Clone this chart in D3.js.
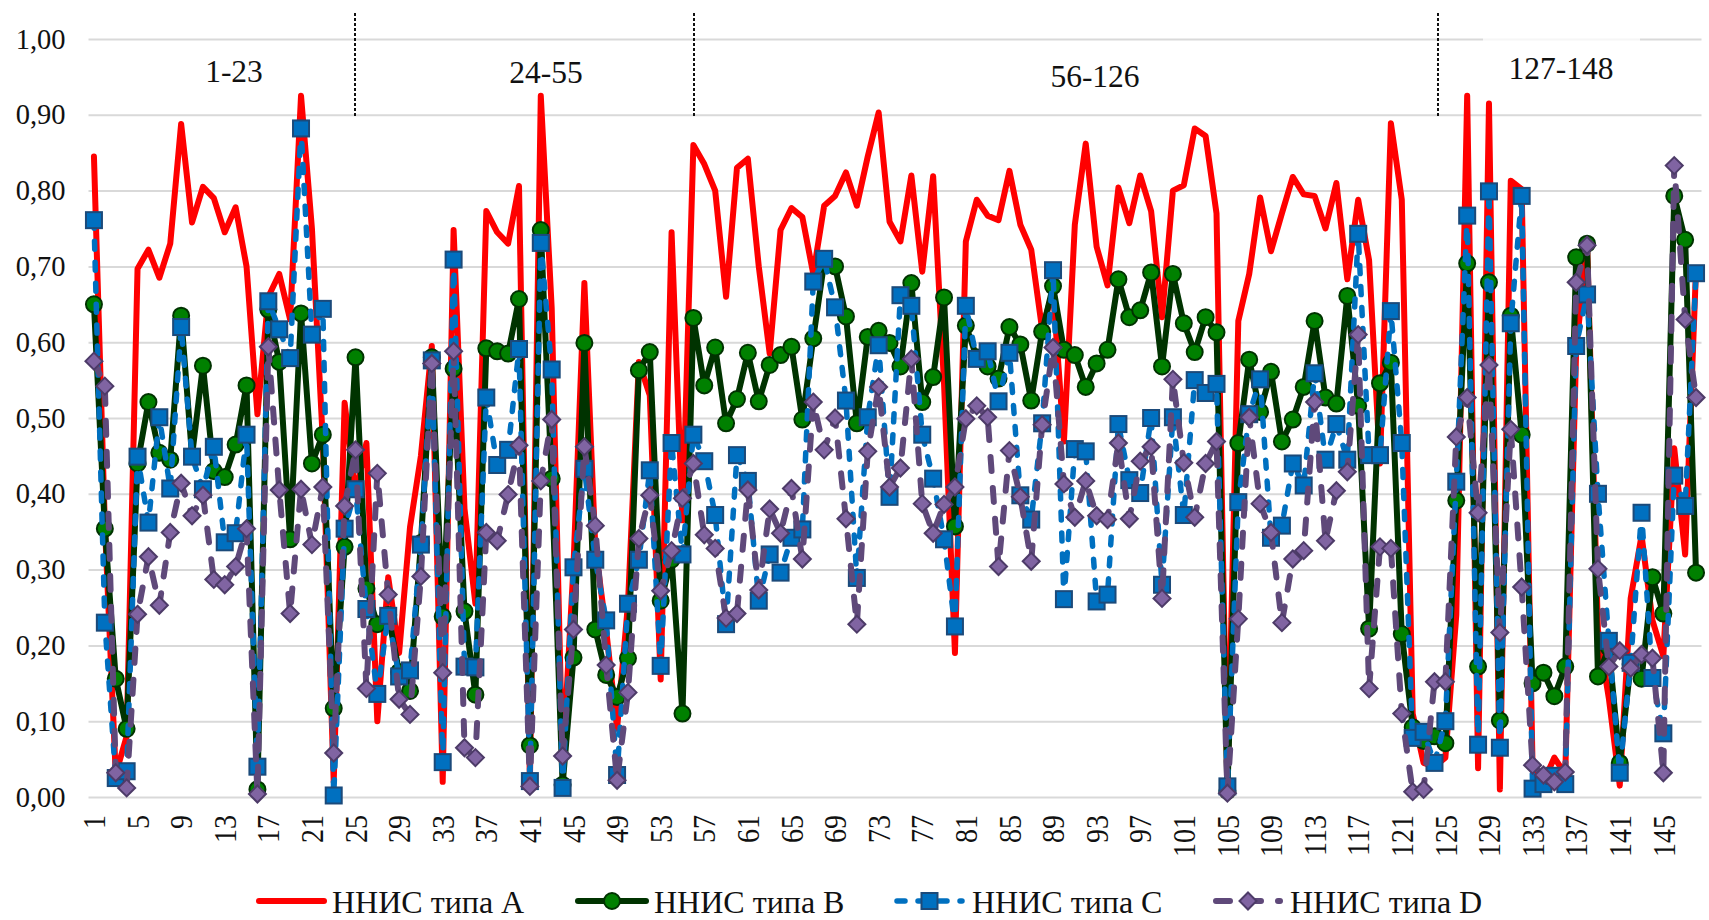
<!DOCTYPE html>
<html><head><meta charset="utf-8">
<script src="https://cdn.jsdelivr.net/npm/d3@7"></script>
<style>html,body{margin:0;padding:0;background:#fff;overflow:hidden}text{font-family:"Liberation Serif","Times New Roman",serif;fill:#111}</style>
</head><body><svg id="c" width="1709" height="920"></svg>
<script>
const categories = d3.range(1,149);
const yTicks = [0,0.1,0.2,0.3,0.4,0.5,0.6,0.7,0.8,0.9,1.0];
const xTickValues = d3.range(1,149,4);
const seriesNames = ["ННИС типа A","ННИС типа B","ННИС типа C","ННИС типа D"];
const typeA = [.845,.36,.03,.08,.697,.722,.685,.73,.888,.758,
.805,.79,.745,.778,.70,.505,.66,.69,.63,.925,
.75,.47,.02,.52,.40,.467,.10,.29,.19,.356,
.45,.595,.02,.748,.38,.255,.773,.745,.73,.806,
.02,.925,.645,.04,.305,.678,.33,.22,.09,.255,
.574,.53,.155,.745,.365,.86,.835,.80,.66,.83,
.842,.70,.585,.748,.777,.765,.69,.78,.793,.824,
.78,.845,.903,.759,.733,.82,.693,.819,.545,.19,
.733,.788,.767,.761,.826,.755,.722,.617,.668,.469,
.755,.862,.726,.675,.804,.757,.82,.773,.633,.80,
.807,.882,.872,.77,.01,.628,.69,.791,.72,.77,
.818,.795,.793,.75,.81,.683,.788,.708,.44,.889,
.788,.11,.045,.04,.052,.24,.925,.038,.915,.01,
.813,.802,.04,.02,.052,.03,.59,.73,.22,.13,
.015,.262,.345,.233,.186,.46,.32,.697];
const typeB = [.65,.354,.156,.09,.44,.521,.454,.445,.635,.45,
.569,.43,.422,.465,.543,.01,.643,.574,.34,.638,
.44,.478,.117,.33,.58,.275,.228,.24,.165,.14,
.335,.58,.238,.565,.245,.135,.592,.588,.585,.657,
.068,.748,.42,.016,.184,.599,.221,.161,.132,.183,
.563,.587,.259,.313,.11,.632,.543,.593,.493,.525,
.586,.522,.57,.583,.594,.498,.605,.705,.70,.634,
.493,.607,.615,.599,.568,.678,.521,.554,.659,.357,
.622,.58,.568,.552,.62,.597,.523,.614,.674,.59,
.583,.541,.572,.59,.683,.633,.642,.692,.568,.69,
.625,.587,.633,.613,.008,.467,.577,.508,.561,.469,
.498,.541,.628,.527,.519,.661,.516,.222,.546,.573,
.215,.092,.074,.08,.071,.391,.704,.172,.679,.101,
.635,.478,.15,.164,.133,.172,.712,.73,.159,.197,
.045,.175,.156,.29,.242,.793,.735,.296];
const typeC = [.761,.23,.025,.034,.449,.362,.501,.407,.62,.449,
.406,.462,.336,.348,.478,.04,.654,.617,.579,.882,
.61,.644,.002,.354,.406,.248,.136,.239,.159,.167,
.333,.576,.046,.709,.172,.171,.527,.438,.458,.591,
.021,.731,.564,.012,.303,.433,.313,.233,.029,.255,
.313,.431,.173,.467,.32,.478,.443,.372,.228,.451,
.417,.259,.32,.296,.342,.353,.68,.71,.646,.523,
.289,.501,.596,.396,.662,.648,.478,.42,.34,.225,
.648,.578,.588,.522,.586,.398,.366,.493,.695,.261,
.459,.456,.258,.267,.492,.418,.401,.5,.28,.501,
.372,.55,.533,.545,.014,.389,.505,.551,.342,.358,
.44,.411,.559,.445,.492,.445,.743,.451,.451,.641,
.467,.078,.086,.045,.1,.416,.767,.069,.799,.065,
.625,.793,.011,.017,.028,.017,.595,.663,.4,.206,
.032,.177,.375,.157,.084,.424,.384,.691];
const typeD = [.575,.542,.032,.012,.241,.317,.253,.349,.414,.371,
.398,.287,.28,.304,.354,.004,.594,.405,.242,.406,
.333,.409,.058,.384,.458,.143,.427,.267,.129,.109,
.291,.572,.164,.588,.065,.052,.349,.338,.399,.464,
.014,.417,.498,.054,.221,.462,.358,.174,.022,.138,
.341,.398,.272,.325,.394,.44,.346,.328,.236,.242,
.405,.273,.38,.348,.407,.314,.521,.458,.5,.367,
.228,.456,.541,.409,.434,.578,.387,.348,.386,.409,
.499,.516,.501,.304,.457,.396,.311,.491,.593,.413,
.369,.417,.371,.366,.467,.367,.443,.462,.262,.551,
.441,.369,.44,.469,.005,.235,.501,.387,.349,.23,
.314,.325,.521,.338,.404,.429,.61,.143,.33,.328,
.11,.007,.01,.152,.152,.475,.527,.375,.57,.217,
.485,.277,.042,.029,.02,.033,.679,.728,.301,.172,
.193,.17,.188,.183,.032,.833,.63,.527];
const periodLabels = ["1-23","24-55","56-126","127-148"];

const svg = d3.select("#c");
const m = {l:88.5,r:1701.5,t:39,b:797};
const x = d3.scaleBand().domain(categories).range([m.l,m.r]);
const cx = v => x(v)+x.bandwidth()/2;
const y = d3.scaleLinear().domain([0,1]).range([m.b,m.t]);

// gridlines
svg.append("g").attr("transform",`translate(${m.l},0)`)
  .call(d3.axisLeft(y).tickValues(yTicks).tickSize(-(m.r-m.l)).tickFormat(""))
  .call(g=>g.select(".domain").remove())
  .call(g=>g.selectAll("line").attr("stroke","#d9d9d9").attr("stroke-width",2));

// y labels
svg.append("g").attr("transform",`translate(${m.l},0)`)
  .call(d3.axisLeft(y).tickValues(yTicks).tickSize(0).tickPadding(23).tickFormat(d=>d3.format(".2f")(d).replace(".",",")))
  .call(g=>g.select(".domain").remove())
  .call(g=>g.selectAll("text").attr("font-size",28.5));

// x labels
svg.append("g").attr("transform",`translate(0,${m.b})`)
  .call(d3.axisBottom(x).tickValues(xTickValues).tickSize(0).tickPadding(0))
  .call(g=>g.select(".domain").remove())
  .call(g=>g.selectAll("text").attr("font-size",28).attr("text-anchor","end")
     .attr("dominant-baseline","central").attr("dy",0).attr("y",0)
     .attr("transform","translate(0,18) rotate(-90) scale(1,1.14)"));

const series = [
 {k:"A",v:typeA,stroke:"#ff0000",w:6,dash:null,cap:"round"},
 {k:"B",v:typeB,stroke:"#003300",w:6,dash:null,cap:"round",m:"circle",fill:"#008000",ms:"#003300"},
 {k:"C",v:typeC,stroke:"#0070c0",w:5.5,dash:"8 13",cap:"round",m:"square",fill:"#0070c0",ms:"#1b4a7a"},
 {k:"D",v:typeD,stroke:"#5f497a",w:6,dash:"14 17",cap:"round",m:"diamond",fill:"#8064a2",ms:"#4d3b68"}
];
const line = d3.line().x((d,i)=>cx(categories[i])).y(d=>y(d));
function marker(sel,kind,s){
  if(kind==="circle") sel.append("circle").attr("r",8).attr("fill",s.fill).attr("stroke",s.ms).attr("stroke-width",2);
  else if(kind==="square") sel.append("rect").attr("x",-8).attr("y",-8).attr("width",16).attr("height",16).attr("fill",s.fill).attr("stroke",s.ms).attr("stroke-width",2);
  else if(kind==="diamond") sel.append("path").attr("d","M0,-8.5L8.5,0L0,8.5L-8.5,0Z").attr("fill",s.fill).attr("stroke",s.ms).attr("stroke-width",2);
}
series.forEach(s=>{
  const g = svg.append("g");
  g.append("path").attr("d",line(s.v)).attr("fill","none").attr("stroke",s.stroke)
    .attr("stroke-width",s.w).attr("stroke-linejoin","round").attr("stroke-linecap",s.cap)
    .attr("stroke-dasharray",s.dash);
  if(s.m){
    s.v.forEach((d,i)=>{
      const p = g.append("g").attr("transform",`translate(${cx(categories[i])},${y(d)})`);
      marker(p,s.m,s);
    });
  }
});

// period separators
[355,694,1438].forEach(xs=>{
  svg.append("line").attr("x1",xs).attr("x2",xs).attr("y1",13).attr("y2",117)
    .attr("stroke","#111").attr("stroke-width",2).attr("stroke-dasharray","3 2");
});
svg.append("rect").attr("x",1483).attr("y",38).attr("width",157).attr("height",50).attr("fill","#fff").attr("opacity",.75);
const labelPos = [[234,75],[546,76],[1095,80],[1561,72]];
periodLabels.forEach((t,i)=>{
  svg.append("text").attr("x",labelPos[i][0]).attr("y",labelPos[i][1]).attr("text-anchor","middle")
    .attr("dominant-baseline","middle").attr("font-size",31.5).text(t);
});

// legend
const legendX = [[259,324,332],[578,646,654],[897,962,972],[1216,1280,1290]];
series.forEach((s,i)=>{
  const [a,b,t]=legendX[i];
  const g = svg.append("g");
  g.append("line").attr("x1",a).attr("x2",b).attr("y1",901).attr("y2",901).attr("stroke",s.stroke)
    .attr("stroke-width",s.w).attr("stroke-linecap","round").attr("stroke-dasharray",s.dash);
  if(s.m){ const p=g.append("g").attr("transform",`translate(${(a+b)/2},901)`); marker(p,s.m,s); }
  g.append("text").attr("x",t).attr("y",902).attr("dominant-baseline","central").attr("font-size",32).text(seriesNames[i]);
});
</script></body></html>
